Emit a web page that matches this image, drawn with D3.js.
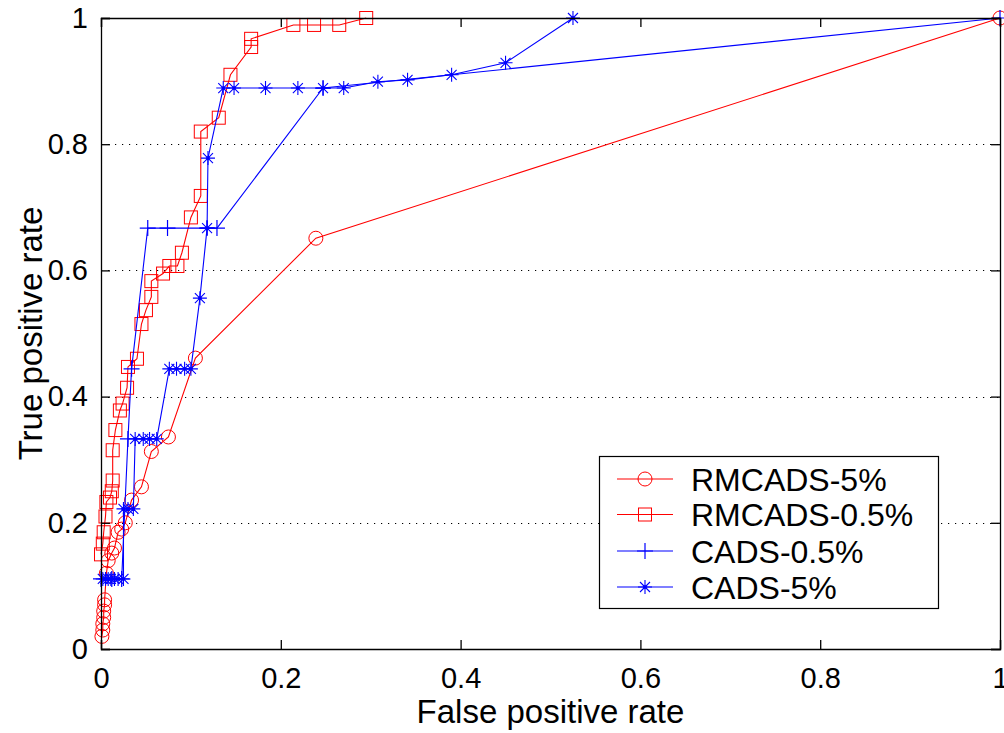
<!DOCTYPE html>
<html>
<head>
<meta charset="utf-8">
<script src="https://cdn.jsdelivr.net/npm/d3@7"></script>
<style>
  html, body { margin: 0; padding: 0; background: #fff; }
  svg { display: block; }
  text { font-family: "Liberation Sans", Arial, sans-serif; fill: #000; }
</style>
</head>
<body>
<svg id="chart" width="1004" height="733"></svg>
<script>
// ---------- data ----------
const seriesNames = ["RMCADS-5%", "RMCADS-0.5%", "CADS-0.5%", "CADS-5%"];
const seriesColors = ["#ff0000", "#ff0000", "#0000ff", "#0000ff"];
const seriesMarkers = ["circle", "square", "plus", "star"];

const rmcads5 = [
  [0.001, 0.020], [0.002, 0.030], [0.002, 0.040], [0.003, 0.050], [0.003, 0.060],
  [0.004, 0.070], [0.004, 0.078], [0.006, 0.120], [0.008, 0.140], [0.012, 0.152],
  [0.015, 0.160], [0.019, 0.185], [0.023, 0.190], [0.027, 0.200], [0.034, 0.236],
  [0.045, 0.257], [0.056, 0.313], [0.075, 0.336], [0.105, 0.461], [0.239, 0.651],
  [1.000, 1.000]
];
const rmcads05 = [
  [0.000, 0.150], [0.002, 0.167], [0.003, 0.185], [0.005, 0.210], [0.006, 0.233],
  [0.010, 0.240], [0.012, 0.250], [0.013, 0.267], [0.013, 0.315], [0.016, 0.347],
  [0.021, 0.378], [0.024, 0.389], [0.029, 0.414], [0.030, 0.447], [0.040, 0.460],
  [0.045, 0.515], [0.050, 0.537], [0.056, 0.558], [0.056, 0.583], [0.069, 0.595],
  [0.076, 0.607], [0.085, 0.607], [0.090, 0.628], [0.100, 0.684], [0.111, 0.718],
  [0.111, 0.820], [0.131, 0.842], [0.144, 0.910], [0.167, 0.954], [0.167, 0.967],
  [0.214, 0.989], [0.237, 0.989], [0.265, 0.989], [0.295, 1.000]
];
const cads05 = [
  [0.000, 0.111], [0.012, 0.111], [0.023, 0.111], [0.030, 0.333], [0.034, 0.444],
  [0.052, 0.667], [0.074, 0.667], [0.118, 0.667], [0.129, 0.667], [0.247, 0.889],
  [1.000, 1.000]
];
const cads5 = [
  [0.002, 0.111], [0.005, 0.111], [0.008, 0.111], [0.011, 0.111], [0.015, 0.111],
  [0.019, 0.111], [0.025, 0.111], [0.025, 0.222], [0.030, 0.222], [0.036, 0.222],
  [0.038, 0.333], [0.047, 0.333], [0.054, 0.333], [0.062, 0.333], [0.076, 0.444],
  [0.084, 0.444], [0.093, 0.444], [0.100, 0.444], [0.110, 0.556], [0.118, 0.667],
  [0.119, 0.778], [0.136, 0.889], [0.148, 0.889], [0.183, 0.889], [0.219, 0.889],
  [0.247, 0.889], [0.270, 0.889], [0.308, 0.899], [0.341, 0.902], [0.390, 0.910],
  [0.450, 0.929], [0.525, 1.000]
];
const seriesData = [rmcads5, rmcads05, cads05, cads5];

const xTicks = [0, 0.2, 0.4, 0.6, 0.8, 1];
const xTickLabels = ["0", "0.2", "0.4", "0.6", "0.8", "1"];
const yTicks = [0, 0.2, 0.4, 0.6, 0.8, 1];
const yTickLabels = ["0", "0.2", "0.4", "0.6", "0.8", "1"];
const gridValues = [0.2, 0.4, 0.6, 0.8];
const xLabel = "False positive rate";
const yLabel = "True positive rate";

// ---------- layout ----------
const svg = d3.select("#chart");
const L = 101, R = 1000, T = 18, B = 649;
const x = d3.scaleLinear().domain([0, 1]).range([L, R]);
const y = d3.scaleLinear().domain([0, 1]).range([B, T]);

svg.append("rect").attr("width", 1004).attr("height", 733).attr("fill", "#fff");

// grid
svg.append("g").selectAll("line").data(gridValues).join("line")
  .attr("x1", L).attr("x2", R)
  .attr("y1", d => Math.round(y(d)) + 0.5).attr("y2", d => Math.round(y(d)) + 0.5)
  .attr("stroke", "#000").attr("stroke-width", 1.2)
  .attr("stroke-dasharray", "1.2,5.8");

// markers
function drawMarker(g, type, color) {
  if (type === "circle") {
    g.append("circle").attr("r", 7).attr("fill", "none").attr("stroke", color).attr("stroke-width", 1);
  } else if (type === "square") {
    g.append("rect").attr("x", -6.5).attr("y", -6.5).attr("width", 13).attr("height", 13)
      .attr("fill", "none").attr("stroke", color).attr("stroke-width", 1);
  } else if (type === "plus") {
    g.append("path").attr("d", "M-8,0H8M0,-8V8").attr("stroke", color).attr("stroke-width", 1.2);
  } else if (type === "star") {
    g.append("path").attr("d", "M-7,0H7M0,-7V7M-5,-5L5,5M-5,5L5,-5").attr("stroke", color).attr("stroke-width", 1.1);
    g.append("circle").attr("r", 1.8).attr("fill", color);
  }
}

const line = d3.line().x(d => x(d[0])).y(d => y(d[1]));
const plot = svg.append("g");
seriesData.forEach((data, i) => {
  const sg = plot.append("g");
  sg.append("path").attr("d", line(data)).attr("fill", "none")
    .attr("stroke", seriesColors[i]).attr("stroke-width", 1.1);
  sg.selectAll("g.m").data(data).join("g").attr("class", "m")
    .attr("transform", d => `translate(${x(d[0])},${y(d[1])})`)
    .each(function () { drawMarker(d3.select(this), seriesMarkers[i], seriesColors[i]); });
});

// axes
const tickFont = 29;
const ax = svg.append("g").attr("transform", `translate(0,${B})`)
  .call(d3.axisBottom(x).tickValues(xTicks).tickSize(-9).tickPadding(18)
    .tickFormat((d, i) => xTickLabels[i]));
const ay = svg.append("g").attr("transform", `translate(${L},0)`)
  .call(d3.axisLeft(y).tickValues(yTicks).tickSize(-9).tickPadding(13)
    .tickFormat((d, i) => yTickLabels[i]));
const axT = svg.append("g").attr("transform", `translate(0,${T})`)
  .call(d3.axisTop(x).tickValues(xTicks).tickSize(-9).tickFormat(() => ""));
const ayR = svg.append("g").attr("transform", `translate(${R},0)`)
  .call(d3.axisRight(y).tickValues(yTicks).tickSize(-9).tickFormat(() => ""));
[ax, ay, axT, ayR].forEach(a => {
  a.selectAll("path.domain").attr("stroke", "#000").attr("stroke-width", 1.3);
  a.selectAll(".tick line").attr("stroke", "#000").attr("stroke-width", 1.3);
  a.selectAll("text").attr("font-size", tickFont)
    .attr("font-family", "'Liberation Sans', Arial, sans-serif").attr("fill", "#000");
});

// axis labels
svg.append("text").attr("x", (L + R) / 2).attr("y", 723)
  .attr("text-anchor", "middle").attr("font-size", 33).text(xLabel);
svg.append("text").attr("transform", `translate(42,${(T + B) / 2}) rotate(-90)`)
  .attr("text-anchor", "middle").attr("font-size", 33).text(yLabel);

// legend
const lg = svg.append("g");
lg.append("rect").attr("x", 599.5).attr("y", 456.5).attr("width", 339).attr("height", 152)
  .attr("fill", "#fff").attr("stroke", "#000").attr("stroke-width", 1.2);
const rowY = [479, 514.5, 551, 587];
seriesNames.forEach((name, i) => {
  const r = lg.append("g").attr("transform", `translate(0,${rowY[i]})`);
  r.append("line").attr("x1", 617).attr("x2", 673).attr("y1", 0).attr("y2", 0)
    .attr("stroke", seriesColors[i]).attr("stroke-width", 1.2);
  const m = r.append("g").attr("transform", "translate(645,0)");
  drawMarker(m, seriesMarkers[i], seriesColors[i]);
  r.append("text").attr("x", 691).attr("y", 0).attr("dy", "0.36em")
    .attr("font-size", 32).text(name);
});
</script>
</body>
</html>
